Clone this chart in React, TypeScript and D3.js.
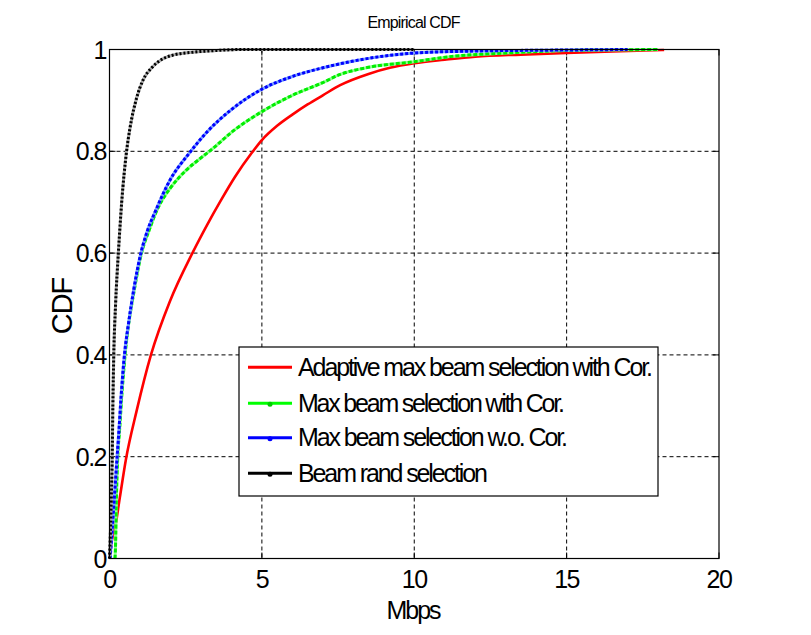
import React from "react";
import * as d3 from "d3";

const xTicks = [0, 5, 10, 15, 20];
const yTicks = [0, 0.2, 0.4, 0.6, 0.8, 1];
const yTickLabels = ["0", "0.2", "0.4", "0.6", "0.8", "1"];

const seriesNames = [
  "Adaptive max beam selection with Cor.",
  "Max beam selection with Cor.",
  "Max beam selection w.o. Cor.",
  "Beam rand selection",
];

const redData: [number, number][] = [
  [0, 0], [0.08, 0.036], [0.21, 0.07], [0.34, 0.12], [0.54, 0.195], [0.89, 0.29],
  [1.36, 0.4], [1.98, 0.505], [2.72, 0.6], [3.2, 0.655], [3.65, 0.703], [4.12, 0.75],
  [4.67, 0.797], [5, 0.822], [5.5, 0.85], [6, 0.872], [6.5, 0.892], [7, 0.91],
  [7.57, 0.93], [8.5, 0.952], [9.2, 0.964], [10, 0.973], [11, 0.98], [12, 0.986],
  [13.5, 0.99], [15, 0.993], [16.5, 0.996], [18.2, 0.999],
];

const greenData: [number, number][] = [
  [0.18, 0], [0.2, 0.03], [0.22, 0.1], [0.27, 0.2], [0.33, 0.252], [0.4, 0.318],
  [0.51, 0.4], [0.82, 0.53], [1.05, 0.6], [1.3, 0.645], [1.6, 0.69], [2.0, 0.728],
  [2.5, 0.762], [3.0, 0.787], [3.4, 0.806], [4.06, 0.84], [5, 0.878], [6, 0.91],
  [7, 0.935], [7.57, 0.951], [8.5, 0.965], [10, 0.976], [11.17, 0.986], [13, 0.993],
  [15, 0.998], [18, 1],
];

const blueData: [number, number][] = [
  [0.02, 0], [0.08, 0.05], [0.16, 0.12], [0.25, 0.2], [0.31, 0.252], [0.38, 0.318],
  [0.49, 0.4], [0.62, 0.46], [0.8, 0.53], [1.03, 0.6], [1.25, 0.645], [1.49, 0.68],
  [2.0, 0.745], [2.6, 0.795], [3.2, 0.838], [4, 0.882], [5, 0.922], [6, 0.947],
  [7, 0.964], [7.89, 0.976], [9, 0.987], [10, 0.993], [12, 0.997], [15, 0.999], [17, 1],
];

const blackData: [number, number][] = [
  [0, 0], [0.03, 0.05], [0.06, 0.12], [0.09, 0.2], [0.11, 0.3], [0.14, 0.4],
  [0.2, 0.5], [0.29, 0.6], [0.4, 0.7], [0.56, 0.8], [0.67, 0.845], [0.89, 0.905],
  [1.1, 0.94], [1.4, 0.965], [1.7, 0.98], [2.08, 0.989], [2.8, 0.995], [3.5, 0.998],
  [4.3, 1], [10, 1],
];

const FONT = "'Liberation Sans', Arial, sans-serif";

export default function App() {
  const W = 811, H = 635;
  const left = 109.5, right = 719, top = 49.5, bottom = 558.5;
  const x = d3.scaleLinear().domain([0, 20]).range([left, right]);
  const y = d3.scaleLinear().domain([0, 1]).range([bottom, top]);
  const line = d3.line<[number, number]>().x(d => x(d[0])).y(d => y(d[1])).curve(d3.curveMonotoneX);

  const series = [
    { data: redData, base: "#ff0000", over: "#ff0000", dash: "none", w: 2.6 },
    { data: greenData, base: "#90ff90", over: "#00ee00", dash: "4,2", w: 3 },
    { data: blueData, base: "#7aa0ff", over: "#0000ff", dash: "3,2", w: 3 },
    { data: blackData, base: "#aaaaaa", over: "#000000", dash: "2,2", w: 3 },
  ];
  const legColors = ["#ff0000", "#00ff00", "#0000ff", "#000000"];
  const legRows = [367.3, 403.3, 437.7, 473.3];
  const legTextLen = [355, 267, 270, 190];

  return (
    <svg width={W} height={H} style={{ position: "absolute", left: 0, top: 0, background: "#fff" }}>
      <rect x={0} y={0} width={W} height={H} fill="#fff" />
      <text x={414} y={28} textAnchor="middle" fontFamily={FONT} fontSize={16} textLength={93} lengthAdjust="spacing">Empirical CDF</text>
      {xTicks.slice(1, -1).map(t => (
        <line key={"gx" + t} x1={x(t)} x2={x(t)} y1={top} y2={bottom} stroke="#000" strokeWidth={1} strokeDasharray="4,3" />
      ))}
      {yTicks.slice(1, -1).map(t => (
        <line key={"gy" + t} x1={left} x2={right} y1={y(t)} y2={y(t)} stroke="#000" strokeWidth={1} strokeDasharray="4,3" />
      ))}
      {xTicks.map(t => (
        <g key={"tx" + t}>
          <line x1={x(t)} x2={x(t)} y1={bottom} y2={bottom - 6} stroke="#000" />
          <line x1={x(t)} x2={x(t)} y1={top} y2={top + 6} stroke="#000" />
          <text x={x(t)} y={588} textAnchor="middle" fontFamily={FONT} fontSize={25} letterSpacing={-1.5}>{t}</text>
        </g>
      ))}
      {yTicks.map((t, i) => (
        <g key={"ty" + t}>
          <line x1={left} x2={left + 6} y1={y(t)} y2={y(t)} stroke="#000" />
          <line x1={right} x2={right - 6} y1={y(t)} y2={y(t)} stroke="#000" />
          <text x={106} y={y(t) + 9} textAnchor="end" fontFamily={FONT} fontSize={25} letterSpacing={-1.5}>{yTickLabels[i]}</text>
        </g>
      ))}
      {series.map((s, i) => (
        <g key={"s" + i}>
          <path d={line(s.data) || ""} fill="none" stroke={s.base} strokeWidth={s.w} />
          {s.dash !== "none" && (
            <path d={line(s.data) || ""} fill="none" stroke={s.over} strokeWidth={s.w} strokeDasharray={s.dash} />
          )}
        </g>
      ))}
      <rect x={left} y={top} width={right - left} height={bottom - top} fill="none" stroke="#000" strokeWidth={1.2} />
      <text x={413} y={619} textAnchor="middle" fontFamily={FONT} fontSize={25} letterSpacing={-2}>Mbps</text>
      <text transform="translate(72,306) rotate(-90)" textAnchor="middle" fontFamily={FONT} fontSize={29} letterSpacing={-1}>CDF</text>
      <rect x={239} y={347} width={419} height={149} fill="#fff" stroke="#000" strokeWidth={1.2} />
      {seriesNames.map((n, i) => (
        <g key={"l" + i}>
          <line x1={248} x2={292} y1={legRows[i]} y2={legRows[i]} stroke={legColors[i]} strokeWidth={3} />
          {i > 0 && <circle cx={270} cy={legRows[i] + 1} r={2.5} fill={legColors[i] === "#00ff00" ? "#00cc00" : legColors[i]} />}
          <text x={298} y={legRows[i] + 8.5} fontFamily={FONT} fontSize={25} textLength={legTextLen[i]} lengthAdjust="spacing">{n}</text>
        </g>
      ))}
    </svg>
  );
}
